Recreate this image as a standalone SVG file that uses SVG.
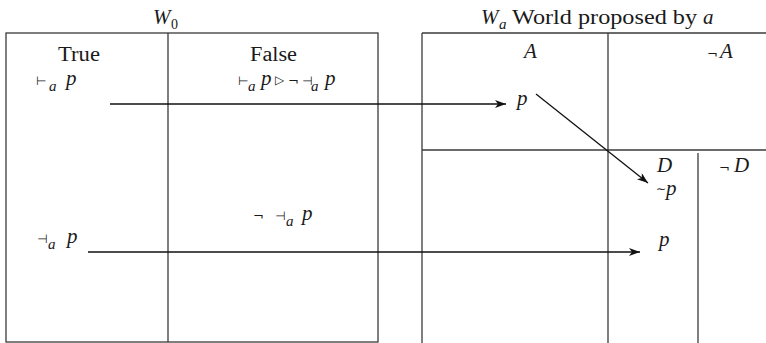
<svg xmlns="http://www.w3.org/2000/svg" width="766" height="343" viewBox="0 0 766 343">
<style>
.box{fill:none;stroke:#3a3a3a;stroke-width:1.3}
.ln{stroke:#3a3a3a;stroke-width:1.3;fill:none}
.arr{stroke:#111;stroke-width:1.3;fill:none;marker-end:url(#ah)}
text{font-family:"Liberation Serif","DejaVu Serif",serif;font-size:20px;fill:#1a1a1a}
.i{font-style:italic;font-size:21px}
.s{font-style:italic;font-size:15px}
.n{font-size:14px}
.sym{font-family:"DejaVu Sans","Liberation Sans",sans-serif;font-size:12px}
.neg{font-family:"DejaVu Sans","Liberation Sans",sans-serif;font-size:13px}
</style>
<defs>
<marker id="ah" markerWidth="12" markerHeight="10" refX="11" refY="4" orient="auto" markerUnits="userSpaceOnUse">
<path d="M0,0 L11,4 L0,8 L3,4 Z" fill="#111"/>
</marker>
</defs>
<g id="world-w0">
<rect class="box" x="6" y="33" width="372" height="309"/>
<line class="ln" x1="168" y1="33" x2="168" y2="342"/>
<text x="153" y="24" class="i">W</text>
<text x="171" y="29" class="n">0</text>
<text x="58" y="61" textLength="42" lengthAdjust="spacingAndGlyphs">True</text>
<text x="250" y="61" textLength="47" lengthAdjust="spacingAndGlyphs">False</text>
<text x="36" y="85" class="sym">⊢</text>
<text x="49" y="91" class="s">a</text>
<text x="66" y="85" class="i">p</text>
<text x="238" y="85" class="sym">⊢</text>
<text x="248" y="91" class="s">a</text>
<text x="261" y="85" class="i">p</text>
<text x="275" y="84" class="sym">▷</text>
<text x="288" y="85" class="neg">¬</text>
<text x="302" y="85" class="sym">⊣</text>
<text x="311" y="91" class="s">a</text>
<text x="325" y="85" class="i">p</text>
<text x="253" y="220" class="neg">¬</text>
<text x="275" y="220" class="sym">⊣</text>
<text x="286" y="226" class="s">a</text>
<text x="302" y="220" class="i">p</text>
<text x="37" y="243" class="sym">⊣</text>
<text x="48" y="249" class="s">a</text>
<text x="67" y="243" class="i">p</text>
</g>
<g id="world-wa">
<line class="ln" x1="422" y1="33" x2="766" y2="33"/>
<line class="ln" x1="422" y1="33" x2="422" y2="343"/>
<line class="ln" x1="608" y1="33" x2="608" y2="343"/>
<line class="ln" x1="422" y1="150" x2="766" y2="150"/>
<line class="ln" x1="698" y1="153" x2="698" y2="343"/>
<text x="481" y="24" class="i">W</text>
<text x="499" y="29" class="s">a</text>
<text x="512" y="24" textLength="185" lengthAdjust="spacingAndGlyphs">World proposed by</text>
<text x="703" y="24" class="i">a</text>
<text x="524" y="58" class="i">A</text>
<text x="707" y="58" class="neg">¬</text>
<text x="720" y="58" class="i">A</text>
<text x="657" y="172" class="i">D</text>
<text x="719" y="172" class="neg">¬</text>
<text x="734" y="172" class="i">D</text>
<text x="517" y="105" class="i">p</text>
<text x="656" y="193" class="sym">∼</text>
<text x="666" y="195" class="i">p</text>
<text x="659" y="246" class="i">p</text>
</g>
<g id="connectors">
<line class="arr" x1="110" y1="104" x2="506" y2="104"/>
<line class="arr" x1="536" y1="94" x2="648" y2="183"/>
<line class="arr" x1="88" y1="252" x2="640" y2="252"/>
</g>
</svg>
